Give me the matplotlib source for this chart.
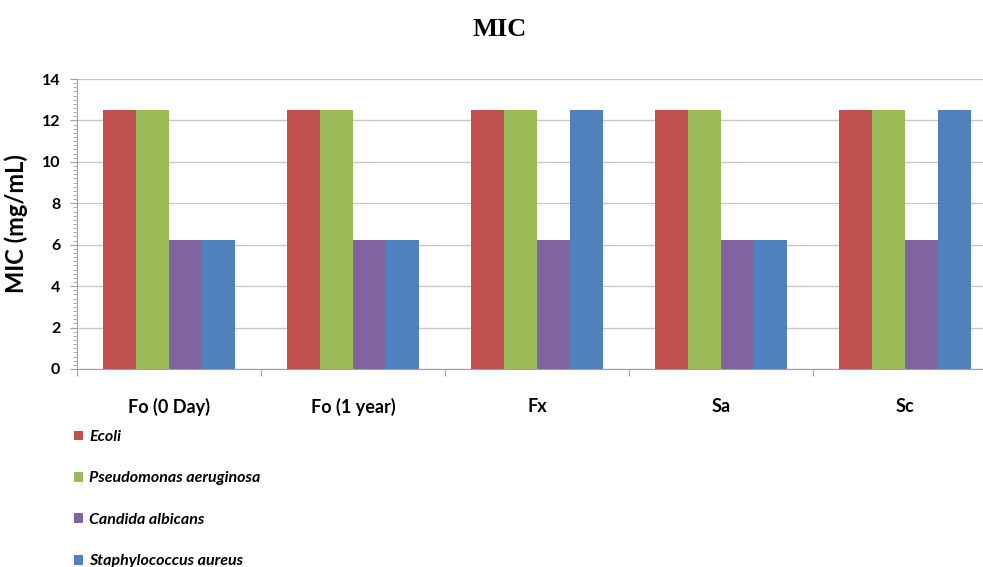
import numpy as np
import matplotlib.pyplot as plt
from matplotlib.ticker import MultipleLocator, FixedLocator

# MIC values (mg/mL) per sample and organism
samples = ['Fo (0 Day)', 'Fo (1 year)', 'Fx', 'Sa', 'Sc']
organisms = ['Ecoli', 'Pseudomonas aeruginosa', 'Candida albicans', 'Staphylococcus aureus']
ecoli = [12.5, 12.5, 12.5, 12.5, 12.5]
pseudomonas = [12.5, 12.5, 12.5, 12.5, 12.5]
candida = [6.25, 6.25, 6.25, 6.25, 6.25]
staph = [6.25, 6.25, 12.5, 6.25, 12.5]
colors = ['#C0504D', '#9BBB59', '#8064A2', '#4F81BD']

series = [ecoli, pseudomonas, candida, staph]

fig = plt.figure(figsize=(9.83, 5.67), dpi=100)
ax = fig.add_axes([77 / 983, 198 / 567, 920 / 983, 290 / 567])

x = np.arange(len(samples))
w = 0.18
for i, (vals, name, c) in enumerate(zip(series, organisms, colors)):
    ax.bar(x + (i - 1.5) * w, vals, width=w, color=c, label=name, zorder=3)

ax.set_xlim(-0.5, len(samples) - 0.5)
ax.set_ylim(0, 14)
ax.yaxis.set_major_locator(MultipleLocator(2))
ax.yaxis.set_minor_locator(MultipleLocator(0.2))
ax.grid(axis='y', which='major', color='#C8C8C8', linewidth=1.0, zorder=0)

# category boundaries get tick marks, labels sit at the centres
ax.xaxis.set_major_locator(FixedLocator(np.arange(-0.5, len(samples), 1.0)))
ax.xaxis.set_major_formatter(plt.NullFormatter())
ax.xaxis.set_minor_locator(FixedLocator(x))
ax.set_xticklabels(samples, minor=True, fontsize=13, fontweight='bold', family='Lato')
ax.tick_params(axis='x', which='minor', length=0, pad=21)
ax.tick_params(axis='x', which='major', length=5, color='#A0A0A0')
ax.tick_params(axis='y', which='major', length=5, color='#A0A0A0', pad=7)
ax.tick_params(axis='y', which='minor', length=3, color='#A0A0A0')
for lbl in ax.get_yticklabels():
    lbl.set_fontweight('bold')
    lbl.set_fontsize(11.5)
    lbl.set_family('Lato')

for side in ['top', 'right']:
    ax.spines[side].set_visible(False)
ax.spines['left'].set_color('#A0A0A0')
ax.spines['bottom'].set_color('#A0A0A0')

ax.set_ylabel('MIC (mg/mL)', fontsize=17, fontweight='bold', family='Lato', labelpad=10)

fig.text(0.508, 0.948, 'MIC', ha='center', va='center', fontsize=19,
         fontweight='bold', family='Liberation Serif')

leg = fig.legend(loc='upper left', bbox_to_anchor=(74 / 983, 1 - 430 / 567),
                 frameon=False, ncol=1, borderpad=0, borderaxespad=0,
                 handlelength=0.55, handleheight=0.55, handletextpad=0.4,
                 labelspacing=1.72,
                 prop={'family': 'Lato', 'style': 'italic', 'weight': 'bold', 'size': 11.5})

plt.savefig('out.png', dpi=100)
